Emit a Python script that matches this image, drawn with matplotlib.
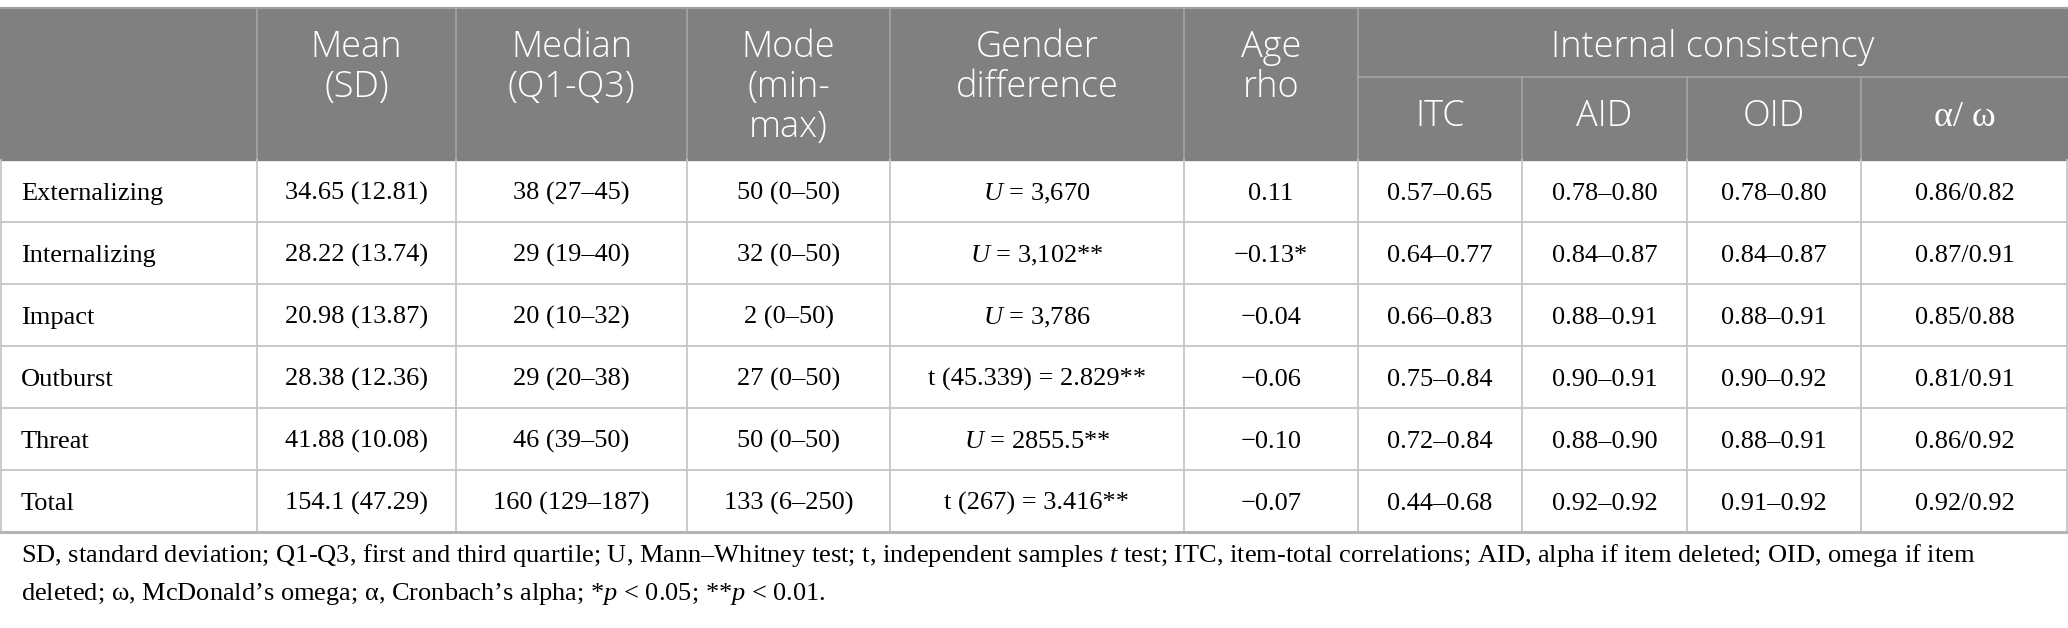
import matplotlib
matplotlib.use("Agg")
import matplotlib.pyplot as plt
from matplotlib.patches import Rectangle

plt.rcParams["mathtext.fontset"] = "custom"
plt.rcParams["mathtext.rm"] = "Liberation Serif"
plt.rcParams["mathtext.it"] = "Liberation Serif:italic"

# ---- table content ----
row_labels = ["Externalizing", "Internalizing", "Impact", "Outburst", "Threat", "Total"]
mean_sd = ["34.65 (12.81)", "28.22 (13.74)", "20.98 (13.87)", "28.38 (12.36)", "41.88 (10.08)", "154.1 (47.29)"]
median_q = ["38 (27–45)", "29 (19–40)", "20 (10–32)", "29 (20–38)", "46 (39–50)", "160 (129–187)"]
mode_range = ["50 (0–50)", "32 (0–50)", "2 (0–50)", "27 (0–50)", "50 (0–50)", "133 (6–250)"]
gender_diff = ["$U$ = 3,670", "$U$ = 3,102**", "$U$ = 3,786", "t (45.339) = 2.829**",
               "$U$ = 2855.5**", "t (267) = 3.416**"]
age_rho = ["0.11", "−0.13*", "−0.04", "−0.06", "−0.10", "−0.07"]
itc = ["0.57–0.65", "0.64–0.77", "0.66–0.83", "0.75–0.84", "0.72–0.84", "0.44–0.68"]
aid = ["0.78–0.80", "0.84–0.87", "0.88–0.91", "0.90–0.91", "0.88–0.90", "0.92–0.92"]
oid = ["0.78–0.80", "0.84–0.87", "0.88–0.91", "0.90–0.92", "0.88–0.91", "0.91–0.92"]
alpha_omega = ["0.86/0.82", "0.87/0.91", "0.85/0.88", "0.81/0.91", "0.86/0.92", "0.92/0.92"]

main_headers = [["Mean", "(SD)"], ["Median", "(Q1-Q3)"], ["Mode", "(min-", "max)"],
                ["Gender", "difference"], ["Age", "rho"]]
group_header = "Internal consistency"
sub_headers = ["ITC", "AID", "OID", "α/ ω"]

footnote = [
    "SD, standard deviation; Q1-Q3, first and third quartile; U, Mann–Whitney test; t, independent samples $t$ test; "
    "ITC, item-total correlations; AID, alpha if item deleted; OID, omega if item",
    "deleted; ω, McDonald’s omega; α, Cronbach’s alpha; *$p$ < 0.05; **$p$ < 0.01.",
]

columns = [mean_sd, median_q, mode_range, gender_diff, age_rho, itc, aid, oid, alpha_omega]

# ---- layout (pixels) ----
W, H = 2068, 628
col_edges = [0, 257, 456, 687, 890, 1184, 1358, 1522, 1687, 1861, 2068]
head_top, head_mid, head_bot = 8, 77, 160
row_h = 62.0

fig = plt.figure(figsize=(W / 100, H / 100), dpi=100)
ax = fig.add_axes([0, 0, 1, 1])
ax.set_xlim(0, W)
ax.set_ylim(H, 0)
ax.axis("off")

head_bg = "#808080"
grid = "#c6c6c6"
head_line = "#a8a8a8"
sans = "Open Sans"
serif = "Liberation Serif"
hsize = 26
bsize = 19

# header block
ax.add_patch(Rectangle((0, head_top), W, head_bot - head_top, color=head_bg, zorder=0))
ax.plot([0, W], [head_top, head_top], color="#a0a0a0", lw=1.6)
for x in col_edges[1:-1]:
    y0 = head_mid if x in col_edges[7:10] else head_top
    ax.plot([x, x], [y0, head_bot], color=head_line, lw=1.1)
ax.plot([col_edges[6], W], [head_mid, head_mid], color=head_line, lw=1.1)

for i, lines in enumerate(main_headers):
    cx = (col_edges[i + 1] + col_edges[i + 2]) / 2
    for j, txt in enumerate(lines):
        ax.text(cx, 57 + 40 * j, txt, ha="center", va="baseline", color="white",
                fontsize=hsize, family=sans, fontweight="light")
ax.text((col_edges[6] + W) / 2, 57, group_header, ha="center", va="baseline",
        color="white", fontsize=hsize, family=sans, fontweight="light")
for i, lab in enumerate(sub_headers):
    cx = (col_edges[6 + i] + col_edges[7 + i]) / 2
    fam = serif if i == 3 else sans
    ax.text(cx, 126, lab, ha="center", va="baseline", color="white", fontsize=hsize,
            family=fam, fontweight="light")

# body
n = len(row_labels)
for r in range(n):
    y0 = head_bot + r * row_h
    base = y0 + row_h / 2 + 9
    if r > 0:
        ax.plot([0, W], [y0, y0], color=grid, lw=1.3)
    ax.text(21, base, row_labels[r], ha="left", va="baseline", fontsize=bsize, family=serif)
    for c, vals in enumerate(columns):
        cx = (col_edges[c + 1] + col_edges[c + 2]) / 2
        ax.text(cx, base, vals[r], ha="center", va="baseline", fontsize=bsize, family=serif)

bottom = head_bot + n * row_h
for x in col_edges[1:-1]:
    ax.plot([x, x], [head_bot, bottom], color=grid, lw=1.3)
ax.plot([0.8, 0.8], [head_bot, bottom], color=grid, lw=1.3)
ax.plot([W - 0.8, W - 0.8], [head_bot, bottom], color=grid, lw=1.3)
ax.plot([0, W], [bottom, bottom], color="#b4b4b4", lw=2.2)

# footnote
for i, line in enumerate(footnote):
    ax.text(21, 562 + i * 38, line, ha="left", va="baseline", fontsize=bsize, family=serif)

fig.savefig("out.png", dpi=100, facecolor="white")
